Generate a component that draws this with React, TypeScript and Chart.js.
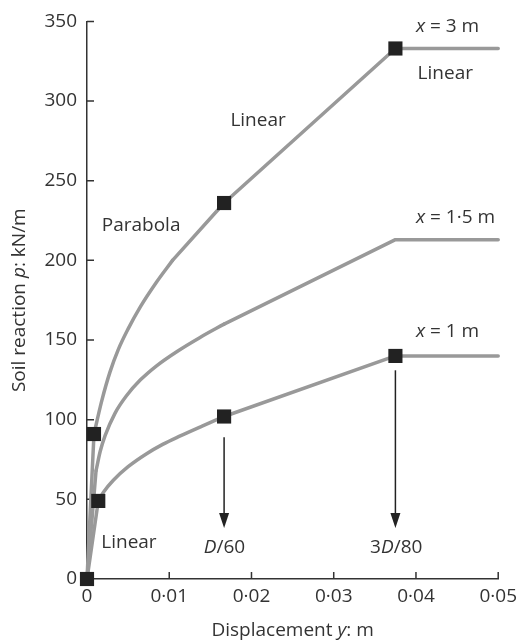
import React, { useEffect, useRef } from 'react';
import { Chart, registerables } from 'chart.js';

Chart.register(...registerables);

// ---- Axis ticks ----
const xTicks = [0, 0.01, 0.02, 0.03, 0.04, 0.05];
const xTickLabels = ['0', '0·01', '0·02', '0·03', '0·04', '0·05'];
const yTicks = [0, 50, 100, 150, 200, 250, 300, 350];
const yTickLabels = ['0', '50', '100', '150', '200', '250', '300', '350'];

// ---- x = 3 m curve (displacement y [m], soil reaction p [kN/m]) ----
const x3LinStartY = [0, 0.00085];
const x3LinStartP = [0, 91];
const x3ParabolaY = [0.00085, 0.0012, 0.0018, 0.0028, 0.0038, 0.005, 0.0065, 0.0084, 0.0104];
const x3ParabolaP = [91, 99, 112, 130, 144, 157, 171, 186, 200];
const x3LinEndY = [0.0104, 0.01667, 0.0375, 0.05];
const x3LinEndP = [200, 236, 333, 333];

// ---- x = 1.5 m curve ----
const x15LinStartY = [0, 0.0011];
const x15LinStartP = [0, 68];
const x15ParabolaY = [0.0011, 0.0016, 0.0022, 0.0034, 0.0048, 0.0065, 0.0085, 0.011, 0.0137, 0.01667];
const x15ParabolaP = [68, 80, 90, 104, 115, 125, 134, 143, 151.5, 160];
const x15LinEndY = [0.01667, 0.0375, 0.05];
const x15LinEndP = [160, 213, 213];

// ---- x = 1 m curve ----
const x1LinStartY = [0, 0.00137];
const x1LinStartP = [0, 49];
const x1ParabolaY = [0.00137, 0.002, 0.0032, 0.005, 0.0072, 0.0092, 0.0112, 0.014, 0.01667];
const x1ParabolaP = [49, 54.5, 62, 70.5, 78.5, 84.5, 89.5, 96, 102];
const x1LinEndY = [0.01667, 0.0375, 0.05];
const x1LinEndP = [102, 140, 140];

// ---- square markers ----
const markerY = [0, 0.00085, 0.00137, 0.01667, 0.01667, 0.0375, 0.0375];
const markerP = [0, 91, 49, 102, 236, 333, 140];

// ---- arrows (D/60 and 3D/80) ----
const arrowY = [0.01667, 0.0375];
const arrowFromP = [89, 131];
const arrowToP = [32, 32];

// ---- annotation texts ----
type Seg = { t: string; i?: boolean };
const annotations: { segs: Seg[]; x: number; p: number; align: 'left' | 'center' }[] = [
  { segs: [{ t: 'Parabola' }], x: 0.00658, p: 222, align: 'center' },
  { segs: [{ t: 'Linear' }], x: 0.0208, p: 288, align: 'center' },
  { segs: [{ t: 'x', i: true }, { t: ' = 3 m' }], x: 0.04, p: 346.5, align: 'left' },
  { segs: [{ t: 'Linear' }], x: 0.0402, p: 317.5, align: 'left' },
  { segs: [{ t: 'x', i: true }, { t: ' = 1·5 m' }], x: 0.04, p: 227, align: 'left' },
  { segs: [{ t: 'x', i: true }, { t: ' = 1 m' }], x: 0.04, p: 155, align: 'left' },
  { segs: [{ t: 'Linear' }], x: 0.0051, p: 22.6, align: 'center' },
  { segs: [{ t: 'D', i: true }, { t: '/60' }], x: 0.01672, p: 19.6, align: 'center' },
  { segs: [{ t: '3' }, { t: 'D', i: true }, { t: '/80' }], x: 0.0376, p: 19.6, align: 'center' },
];

const xTitle: Seg[] = [{ t: 'Displacement ' }, { t: 'y', i: true }, { t: ': m' }];
const yTitle: Seg[] = [{ t: 'Soil reaction ' }, { t: 'p', i: true }, { t: ': kN/m' }];

const FONT = '"Open Sans", sans-serif';
const TEXT = '#333333';
const LINE = '#999999';
const DARK = '#222222';
const FS = 19;

const pts = (xs: number[], ys: (number | null)[]) => xs.map((x, i) => ({ x, y: ys[i] }));

function drawRich(ctx: CanvasRenderingContext2D, segs: Seg[], x: number, y: number, align: string, size: number, rot = 0) {
  ctx.save();
  ctx.translate(x, y);
  if (rot) ctx.rotate(rot);
  const fonts = segs.map((s) => `${s.i ? 'italic ' : ''}${size}px ${FONT}`);
  let total = 0;
  const widths = segs.map((s, k) => {
    ctx.font = fonts[k];
    const w = ctx.measureText(s.t).width;
    total += w;
    return w;
  });
  let cx = align === 'center' ? -total / 2 : align === 'right' ? -total : 0;
  ctx.textBaseline = 'middle';
  ctx.textAlign = 'left';
  ctx.fillStyle = TEXT;
  segs.forEach((s, k) => {
    ctx.font = fonts[k];
    ctx.fillText(s.t, cx, 0);
    cx += widths[k];
  });
  ctx.restore();
}

const decorPlugin = {
  id: 'decor',
  beforeDatasetsDraw(chart: any) {
    const ctx: CanvasRenderingContext2D = chart.ctx;
    const xs = chart.scales.x;
    const ys = chart.scales.y;
    ctx.save();
    ctx.strokeStyle = '#333333';
    ctx.lineWidth = 1.5;
    ctx.beginPath();
    xTicks.forEach((v) => {
      if (v === 0) return;
      const px = xs.getPixelForValue(v);
      ctx.moveTo(px, ys.bottom);
      ctx.lineTo(px, ys.bottom - 7);
    });
    yTicks.forEach((v) => {
      if (v === 0) return;
      const py = ys.getPixelForValue(v);
      ctx.moveTo(xs.left, py);
      ctx.lineTo(xs.left + 7, py);
    });
    ctx.stroke();
    ctx.restore();
  },
  afterDraw(chart: any) {
    const ctx: CanvasRenderingContext2D = chart.ctx;
    const xs = chart.scales.x;
    const ys = chart.scales.y;
    // arrows
    ctx.save();
    ctx.strokeStyle = DARK;
    ctx.fillStyle = DARK;
    ctx.lineWidth = 1.5;
    arrowY.forEach((v, i) => {
      const px = xs.getPixelForValue(v);
      const y0 = ys.getPixelForValue(arrowFromP[i]);
      const y1 = ys.getPixelForValue(arrowToP[i]);
      ctx.beginPath();
      ctx.moveTo(px, y0);
      ctx.lineTo(px, y1 - 12);
      ctx.stroke();
      ctx.beginPath();
      ctx.moveTo(px, y1);
      ctx.lineTo(px - 5, y1 - 15);
      ctx.lineTo(px + 5, y1 - 15);
      ctx.closePath();
      ctx.fill();
    });
    ctx.restore();
    // annotation texts
    annotations.forEach((a) => {
      drawRich(ctx, a.segs, xs.getPixelForValue(a.x), ys.getPixelForValue(a.p), a.align, FS);
    });
    // axis titles
    drawRich(ctx, xTitle, (xs.left + xs.right) / 2, chart.height - 11, 'center', FS);
    drawRich(ctx, yTitle, 20, (ys.top + ys.bottom) / 2, 'center', FS, -Math.PI / 2);
  },
};

export default function App() {
  const ref = useRef<HTMLCanvasElement | null>(null);
  useEffect(() => {
    if (!ref.current) return;
    const gap = { x: 0.005, y: null };
    const lineDs = (data: any[], smooth: boolean) => ({
      data,
      borderColor: LINE,
      backgroundColor: LINE,
      borderWidth: 3.5,
      pointRadius: 0,
      showLine: true,
      fill: false,
      spanGaps: false,
      cubicInterpolationMode: smooth ? 'monotone' : 'default',
      tension: 0,
      borderCapStyle: 'round',
      borderJoinStyle: 'round',
      clip: false,
    });
    const chart = new Chart(ref.current, {
      type: 'scatter',
      data: {
        datasets: [
          {
            data: pts(markerY, markerP),
            pointStyle: 'rect',
            pointRadius: 10,
            pointBackgroundColor: DARK,
            pointBorderColor: DARK,
            pointBorderWidth: 0,
            showLine: false,
            clip: false,
          } as any,
          lineDs([...pts(x3LinStartY, x3LinStartP), gap, ...pts(x3LinEndY, x3LinEndP)], false),
          lineDs(pts(x3ParabolaY, x3ParabolaP), true),
          lineDs([...pts(x15LinStartY, x15LinStartP), gap, ...pts(x15LinEndY, x15LinEndP)], false),
          lineDs(pts(x15ParabolaY, x15ParabolaP), true),
          lineDs([...pts(x1LinStartY, x1LinStartP), gap, ...pts(x1LinEndY, x1LinEndP)], false),
          lineDs(pts(x1ParabolaY, x1ParabolaP), true),
        ],
      },
      options: {
        animation: false,
        responsive: false,
        devicePixelRatio: 1,
        layout: { padding: { top: 21, right: 22, left: 0, bottom: 0 } },
        plugins: { legend: { display: false }, tooltip: { enabled: false } },
        scales: {
          x: {
            type: 'linear',
            min: 0,
            max: 0.05,
            afterBuildTicks: (s: any) => {
              s.ticks = xTicks.map((v) => ({ value: v }));
            },
            afterFit: (s: any) => {
              s.height = 63;
            },
            grid: { display: false, drawTicks: false },
            border: { display: true, color: '#333333', width: 1.5 },
            ticks: {
              padding: 6,
              color: TEXT,
              font: { family: FONT, size: FS },
              maxRotation: 0,
              autoSkip: false,
              callback: (v: any) => xTickLabels[xTicks.findIndex((t) => Math.abs(t - v) < 1e-9)] ?? '',
            },
          },
          y: {
            type: 'linear',
            min: 0,
            max: 350,
            afterBuildTicks: (s: any) => {
              s.ticks = yTicks.map((v) => ({ value: v }));
            },
            afterFit: (s: any) => {
              s.width = 87;
            },
            grid: { display: false, drawTicks: false },
            border: { display: true, color: '#333333', width: 1.5 },
            ticks: {
              padding: 10,
              color: TEXT,
              font: { family: FONT, size: FS },
              autoSkip: false,
              callback: (v: any) => yTickLabels[yTicks.indexOf(v)] ?? '',
            },
          },
        },
      } as any,
      plugins: [decorPlugin],
    });
    return () => chart.destroy();
  }, []);
  return (
    <div style={{ position: 'absolute', left: 0, top: 0, width: 523, height: 642, background: '#fff' }}>
      <canvas ref={ref} width={523} height={642} style={{ display: 'block', width: 523, height: 642 }} />
    </div>
  );
}
